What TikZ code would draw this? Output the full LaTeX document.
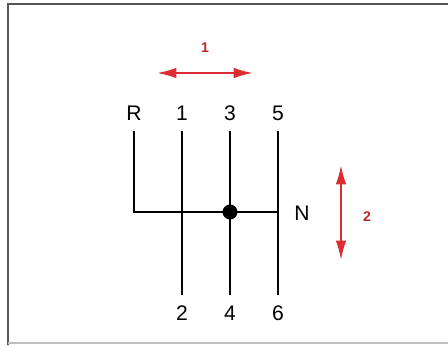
\documentclass[tikz,border=0pt]{standalone}
\usepackage{fontspec}
\setsansfont{Liberation Sans}
\usepackage{xcolor}
\usepackage{tikz}
\usetikzlibrary{arrows.meta,positioning,calc}

\definecolor{shiftred}{RGB}{222,45,50}
\definecolor{framegray}{RGB}{85,85,85}

\begin{document}
\begin{tikzpicture}[x=0.02cm,y=-0.02cm,
    gear/.style={font=\sffamily\fontsize{12}{13}\selectfont, text height=8.6pt, text depth=0pt, inner xsep=1pt, inner ysep=5.5pt},
    gate/.style={line width=1.2pt, black},
    knob/.style={circle, fill=black, inner sep=0pt, minimum size=8.5pt},
    move/.style={shiftred, line width=1.1pt, {Latex[length=11pt,width=6pt]}-{Latex[length=11pt,width=6pt]}},
    movelabel/.style={shiftred!85!black, font=\sffamily\bfseries\fontsize{8}{9}\selectfont, inner sep=1pt}]
\useasboundingbox (0,0) rectangle (448,345);

% Frame
\draw[framegray, line width=1.1pt] (8,345) -- (8,4) -- (448,4);
\draw[black!25, line width=0.6pt] (8,343) -- (448,343);

% Gear positions
\node[gear] (gR) at (134,113) {R};
\foreach \x/\up/\down in {182/1/2, 230/3/4, 278/5/6} {
    \node[gear] (g\up) at (\x,113) {\up};
    \node[gear] (g\down) at (\x,313) {\down};
    \draw[gate] (g\up.south) -- (g\down.north);
}

% Neutral gate
\node[knob] (knob) at (230,212) {};
\draw[gate] (gR.south) |- (knob -| g5.south);
\node[gear] (gN) at (302,213) {N};

% Shift directions
\coordinate (m1l) at (157,73);
\coordinate (m1r) at (253,73);
\draw[move] (m1l) -- (m1r);
\node[movelabel] (s1) at (205,48) {1};

\coordinate (m2t) at (341,165);
\coordinate (m2b) at (341,260);
\draw[move] (m2t) -- (m2b);
\node[movelabel] (s2) at (367,217) {2};
\end{tikzpicture}
\end{document}
